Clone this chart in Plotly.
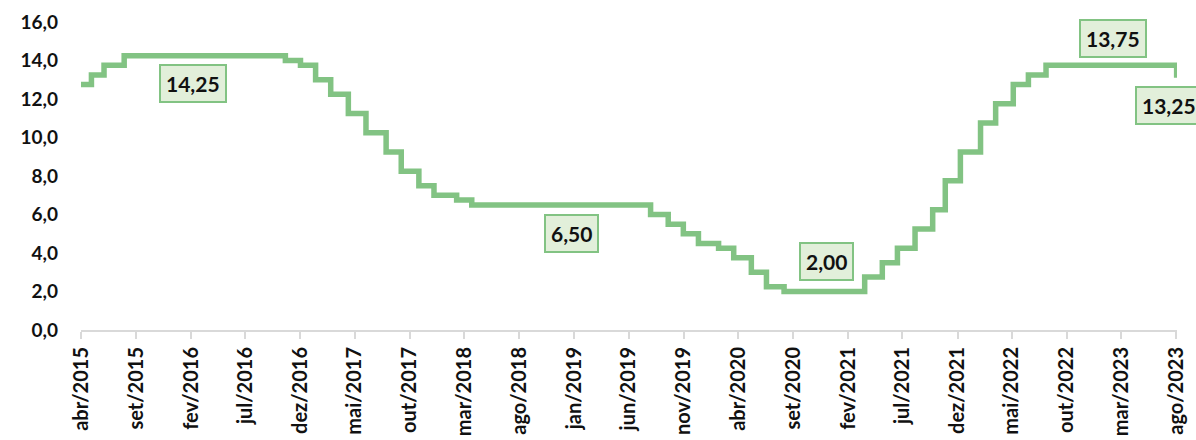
import plotly.graph_objects as go

# Selic target rate (% a.a.) - Copom decision dates and new levels
decision_dates = [
    "2015-04-01", "2015-04-30", "2015-06-04", "2015-07-30", "2016-10-20",
    "2016-12-01", "2017-01-12", "2017-02-23", "2017-04-13", "2017-06-01",
    "2017-07-27", "2017-09-07", "2017-10-26", "2017-12-07", "2018-02-08",
    "2018-03-22", "2019-08-01", "2019-09-19", "2019-10-31", "2019-12-12",
    "2020-02-06", "2020-03-19", "2020-05-07", "2020-06-18", "2020-08-06",
    "2021-03-18", "2021-05-06", "2021-06-17", "2021-08-05", "2021-09-23",
    "2021-10-28", "2021-12-09", "2022-02-03", "2022-03-17", "2022-05-05",
    "2022-06-16", "2022-08-04", "2023-08-02", "2023-08-03",
]
selic = [
    12.75, 13.25, 13.75, 14.25, 14.00,
    13.75, 13.00, 12.25, 11.25, 10.25,
    9.25, 8.25, 7.50, 7.00, 6.75,
    6.50, 6.00, 5.50, 5.00, 4.50,
    4.25, 3.75, 3.00, 2.25, 2.00,
    2.75, 3.50, 4.25, 5.25, 6.25,
    7.75, 9.25, 10.75, 11.75, 12.75,
    13.25, 13.75, 13.25, 13.25,
]

# x-axis ticks every five months
tick_dates = [
    "2015-04-01", "2015-09-01", "2016-02-01", "2016-07-01", "2016-12-01",
    "2017-05-01", "2017-10-01", "2018-03-01", "2018-08-01", "2019-01-01",
    "2019-06-01", "2019-11-01", "2020-04-01", "2020-09-01", "2021-02-01",
    "2021-07-01", "2021-12-01", "2022-05-01", "2022-10-01", "2023-03-01",
    "2023-08-01",
]
tick_labels = [
    "abr/2015", "set/2015", "fev/2016", "jul/2016", "dez/2016",
    "mai/2017", "out/2017", "mar/2018", "ago/2018", "jan/2019",
    "jun/2019", "nov/2019", "abr/2020", "set/2020", "fev/2021",
    "jul/2021", "dez/2021", "mai/2022", "out/2022", "mar/2023",
    "ago/2023",
]

# highlighted levels: (anchor date, value, vertical offset in px)
label_dates = ["2016-02-05", "2018-12-25", "2020-12-03", "2023-02-05", "2023-07-12"]
label_values = [14.25, 6.50, 2.00, 13.75, 13.25]
label_shifts = [-28, -29, 30, 27, -31]

LINE = "#82c383"
FILL = "#e2efda"
FONT = "Lato"

fig = go.Figure()
fig.add_trace(go.Scatter(
    x=decision_dates, y=selic, mode="lines",
    line=dict(color=LINE, width=5.5, shape="hv"),
    hoverinfo="skip", showlegend=False, cliponaxis=False,
))

for d, v, s in zip(label_dates, label_values, label_shifts):
    fig.add_annotation(
        x=d, y=v, yshift=s, showarrow=False,
        text=f"{v:.2f}".replace(".", ","),
        font=dict(family=FONT, size=21, color="#111111", weight="bold"),
        bgcolor=FILL, bordercolor=LINE, borderwidth=2, borderpad=5,
    )

fig.update_layout(
    width=1196, height=440,
    margin=dict(l=81, r=19, t=22, b=110, autoexpand=False),
    paper_bgcolor="white", plot_bgcolor="white",
    separators=", ",
    font=dict(family=FONT, color="#111111"),
)
fig.update_xaxes(
    type="date", range=["2015-04-01", "2023-08-03"], automargin=False,
    tickvals=tick_dates, ticktext=tick_labels, tickangle=-90,
    tickfont=dict(family=FONT, size=20, color="#111111", weight="bold"),
    showgrid=False, zeroline=False,
    showline=True, linecolor="#d9d9d9", linewidth=2,
    ticks="outside", ticklen=7, tickwidth=2, tickcolor="#d9d9d9",
)
fig.update_yaxes(
    range=[0, 16], tickvals=[0, 2, 4, 6, 8, 10, 12, 14, 16], tickformat=".1f",
    automargin=False,
    tickfont=dict(family=FONT, size=19, color="#111111", weight="bold"),
    showgrid=False, zeroline=False, showline=False, ticklabelstandoff=22,
)

fig.write_html("out.html")
